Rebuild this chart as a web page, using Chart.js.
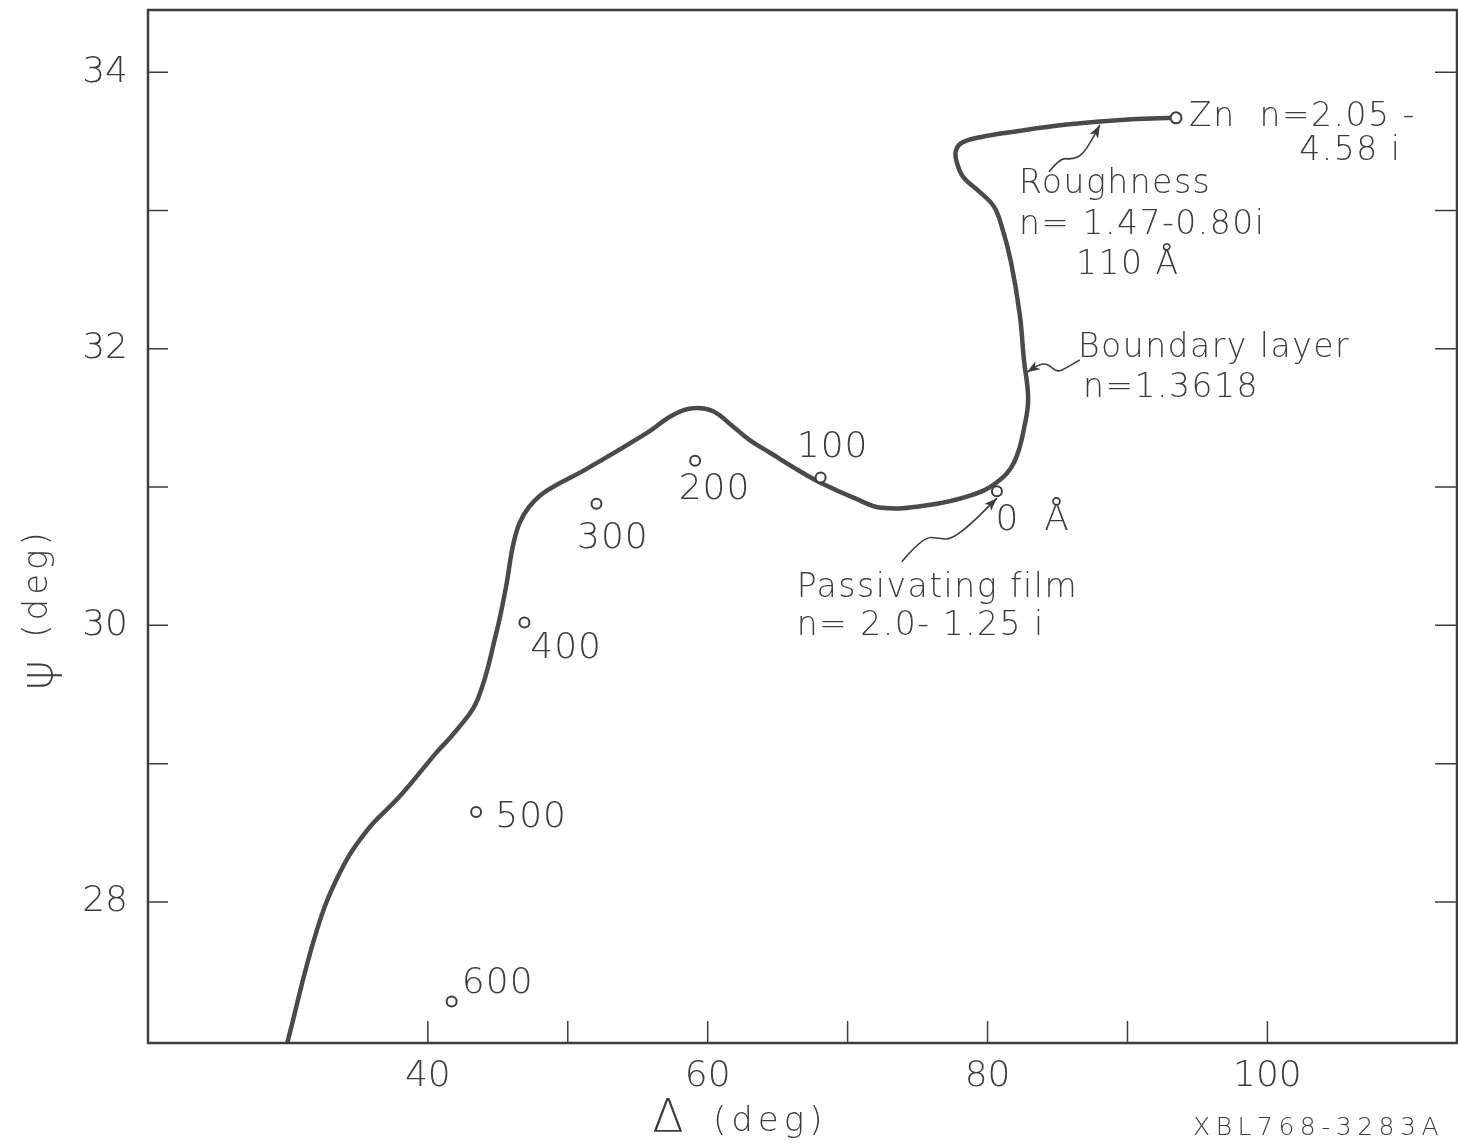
<!DOCTYPE html>
<html><head><meta charset="utf-8">
<script src="https://cdn.jsdelivr.net/npm/chart.js@4/dist/chart.umd.min.js"></script>
<style>html,body{margin:0;padding:0;background:#fff}canvas{display:block}</style>
</head><body>
<canvas id="c" width="1458" height="1148"></canvas>
<script>
// ---- data (Δ, ψ in degrees) ----
const curveDelta = [29.95, 32.02, 33.7, 35.67, 37.96, 40.61, 42.04, 43.54, 44.88, 45.59, 46.07, 46.55, 47.26, 48.45, 51.32, 55.63, 57.49, 58.92, 60.35, 61.78, 63.0, 64.43, 66.5, 68.1, 70.5, 72.44, 75.8, 78.8, 80.6, 81.9, 82.7, 82.9, 82.6, 82.3, 81.67, 81.03, 80.45, 79.49, 78.28, 77.8, 77.73, 78.16, 79.49, 81.88, 85.5, 90.3, 93.4];
const curvePsi   = [26.98, 27.78, 28.21, 28.52, 28.76, 29.08, 29.24, 29.46, 29.94, 30.28, 30.57, 30.74, 30.86, 30.97, 31.13, 31.39, 31.52, 31.57, 31.55, 31.44, 31.34, 31.25, 31.12, 31.03, 30.92, 30.85, 30.87, 30.94, 31.03, 31.18, 31.47, 31.65, 31.92, 32.25, 32.63, 32.88, 33.03, 33.13, 33.24, 33.35, 33.43, 33.49, 33.53, 33.57, 33.62, 33.66, 33.67];

const thicknessLabels = ['0  Å', '100', '200', '300', '400', '500', '600'];
const thicknessDelta  = [80.67, 68.07, 59.1, 52.05, 46.9, 43.45, 41.7];
const thicknessPsi    = [30.97, 31.07, 31.19, 30.88, 30.02, 28.65, 27.28];

const znDelta = [93.47];
const znPsi   = [33.67];

const xTickValues = [40, 50, 60, 70, 80, 90, 100];
const xTickLabels = ['40', '', '60', '', '80', '', '100'];
const yTickValues = [28, 29, 30, 31, 32, 33, 34];
const yTickLabels = ['28', '', '30', '', '32', '', '34'];

// ---- annotation placement (data units) ----
const thicknessLabelDelta = [83.22, 68.93, 60.49, 53.22, 49.88, 47.38, 44.99];
const thicknessLabelPsi   = [30.76, 31.285, 30.98, 30.63, 29.83, 28.61, 27.41];

const noteTexts = ['Zn  n=2.05 -', '4.58 i', 'Roughness', 'n= 1.47-0.80i', '110 Å', 'Boundary layer', 'n=1.3618', 'Passivating film', 'n= 2.0- 1.25 i'];
const noteDelta = [94.4, 102.27, 82.24, 82.24, 86.32, 86.46, 86.82, 66.36, 66.36];
const notePsi   = [33.67, 33.43, 33.19, 32.89, 32.60, 32.00, 31.71, 30.27, 29.99];

const arrowPaths = [
  [[84.39, 33.28], [85.17, 33.38], [86.03, 33.37], [86.75, 33.40], [87.46, 33.51], [88.03, 33.62]],
  [[86.60, 31.92], [85.60, 31.86], [84.96, 31.83], [84.31, 31.89], [83.74, 31.89], [82.81, 31.83]],
  [[73.87, 30.46], [75.37, 30.64], [76.59, 30.63], [77.30, 30.62], [78.59, 30.71], [80.67, 30.92]]
];

const INK = '#3d3d3d';
const FONT = "'DejaVu Sans', sans-serif";

function setFont(ctx, size, weight) { ctx.font = (weight || '200') + ' ' + size + 'px ' + FONT; }

const frameTicks = {
  id: 'frameTicks',
  afterDraw(chart) {
    const {ctx, chartArea: a, scales: {x, y}} = chart;
    ctx.save();
    ctx.strokeStyle = INK;
    ctx.lineWidth = 2.5;
    ctx.strokeRect(a.left, a.top, a.right - a.left, a.bottom - a.top);
    ctx.lineWidth = 1.5;
    ctx.beginPath();
    x.ticks.forEach(t => { const px = x.getPixelForValue(t.value); ctx.moveTo(px, a.bottom); ctx.lineTo(px, a.bottom - 22); });
    y.ticks.forEach(t => { const py = y.getPixelForValue(t.value);
      ctx.moveTo(a.left, py); ctx.lineTo(a.left + 20, py);
      ctx.moveTo(a.right, py); ctx.lineTo(a.right - 22, py); });
    ctx.stroke();

    // axis titles
    ctx.fillStyle = INK;
    ctx.textBaseline = 'middle';
    ctx.textAlign = 'center';
    setFont(ctx, 46);
    ctx.fillText('Δ', a.left + 520, 1120);
    ctx.textAlign = 'left';
    ctx.letterSpacing = '5px';
    setFont(ctx, 34);
    ctx.fillText('(deg)', a.left + 565, 1122);
    ctx.save();
    ctx.translate(38, 611);
    ctx.rotate(-Math.PI / 2);
    ctx.textAlign = 'center';
    ctx.letterSpacing = '4px';
    setFont(ctx, 34);
    ctx.fillText('(deg)', 28, 0);
    setFont(ctx, 46);
    ctx.letterSpacing = '0px';
    ctx.fillText('ψ', -64, 2);
    ctx.restore();
    ctx.textAlign = 'right';
    ctx.letterSpacing = '5.5px';
    setFont(ctx, 25);
    ctx.fillText('XBL768-3283A', 1444, 1128);
    ctx.restore();
  }
};

function smoothPath(ctx, pts) {
  ctx.moveTo(pts[0][0], pts[0][1]);
  for (let i = 1; i < pts.length - 1; i++) {
    const mx = (pts[i][0] + pts[i + 1][0]) / 2, my = (pts[i][1] + pts[i + 1][1]) / 2;
    ctx.quadraticCurveTo(pts[i][0], pts[i][1], mx, my);
  }
  const n = pts.length - 1;
  ctx.lineTo(pts[n][0], pts[n][1]);
}

const annotations = {
  id: 'annotations',
  afterDatasetsDraw(chart) {
    const {ctx, scales: {x, y}} = chart;
    ctx.save();
    ctx.fillStyle = INK;
    ctx.textBaseline = 'middle';
    ctx.letterSpacing = '1px';
    setFont(ctx, 36);
    ctx.textAlign = 'center';
    thicknessLabels.forEach((t, i) => {
      ctx.fillText(t, x.getPixelForValue(thicknessLabelDelta[i]), y.getPixelForValue(thicknessLabelPsi[i]));
    });
    setFont(ctx, 33);
    ctx.textAlign = 'left';
    ctx.letterSpacing = '1.5px';
    noteTexts.forEach((t, i) => {
      ctx.fillText(t, x.getPixelForValue(noteDelta[i]), y.getPixelForValue(notePsi[i]));
    });
    ctx.strokeStyle = INK;
    ctx.lineWidth = 1.6;
    arrowPaths.forEach(p => {
      const pts = p.map(q => [x.getPixelForValue(q[0]), y.getPixelForValue(q[1])]);
      ctx.beginPath();
      smoothPath(ctx, pts);
      ctx.stroke();
      const e = pts[pts.length - 1], s = pts[pts.length - 2];
      const ang = Math.atan2(e[1] - s[1], e[0] - s[0]);
      const L = 14, W = 0.35;
      ctx.beginPath();
      ctx.moveTo(e[0], e[1]);
      ctx.lineTo(e[0] - L * Math.cos(ang - W), e[1] - L * Math.sin(ang - W));
      ctx.lineTo(e[0] - L * 0.7 * Math.cos(ang), e[1] - L * 0.7 * Math.sin(ang));
      ctx.lineTo(e[0] - L * Math.cos(ang + W), e[1] - L * Math.sin(ang + W));
      ctx.closePath();
      ctx.fill();
    });
    ctx.restore();
  }
};

const tickFont = {family: FONT, size: 36, weight: '200'};
function zeroPad(s) { s.paddingTop = 0; s.paddingBottom = 0; s.paddingLeft = 0; s.paddingRight = 0; }

new Chart(document.getElementById('c'), {
  type: 'scatter',
  data: {
    datasets: [
      {
        label: 'Trajectory',
        data: curveDelta.map((d, i) => ({x: d, y: curvePsi[i]})),
        showLine: true,
        tension: 0.4,
        borderColor: '#4a4a4a',
        borderWidth: 4.5,
        pointRadius: 0,
        order: 2
      },
      {
        label: 'Thickness',
        data: thicknessDelta.map((d, i) => ({x: d, y: thicknessPsi[i]})),
        showLine: false,
        pointRadius: 5,
        pointBorderWidth: 2,
        pointBackgroundColor: '#ffffff',
        pointBorderColor: INK,
        order: 1
      },
      {
        label: 'Zn',
        data: znDelta.map((d, i) => ({x: d, y: znPsi[i]})),
        showLine: false,
        pointRadius: 5.5,
        pointBorderWidth: 2,
        pointBackgroundColor: '#ffffff',
        pointBorderColor: INK,
        order: 0
      }
    ]
  },
  options: {
    responsive: false,
    animation: false,
    layout: {autoPadding: false, padding: {top: 10, right: 1, left: 0, bottom: 0}},
    plugins: {legend: {display: false}, tooltip: {enabled: false}},
    scales: {
      x: {
        type: 'linear', min: 20, max: 113.55,
        afterBuildTicks: s => { s.ticks = xTickValues.map(v => ({value: v})); },
        afterFit: s => { s.height = 105; zeroPad(s); },
        grid: {display: false, drawTicks: false},
        border: {display: false},
        ticks: {
          callback: v => xTickLabels[xTickValues.indexOf(v)] || '',
          font: tickFont, color: INK, padding: 12, maxRotation: 0, autoSkip: false
        }
      },
      y: {
        type: 'linear', min: 26.98, max: 34.45,
        afterBuildTicks: s => { s.ticks = yTickValues.map(v => ({value: v})); },
        afterFit: s => { s.width = 148; zeroPad(s); },
        grid: {display: false, drawTicks: false},
        border: {display: false},
        ticks: {
          callback: v => yTickLabels[yTickValues.indexOf(v)] || '',
          font: tickFont, color: INK, padding: 20, autoSkip: false
        }
      }
    }
  },
  plugins: [frameTicks, annotations]
});
</script>
</body></html>
